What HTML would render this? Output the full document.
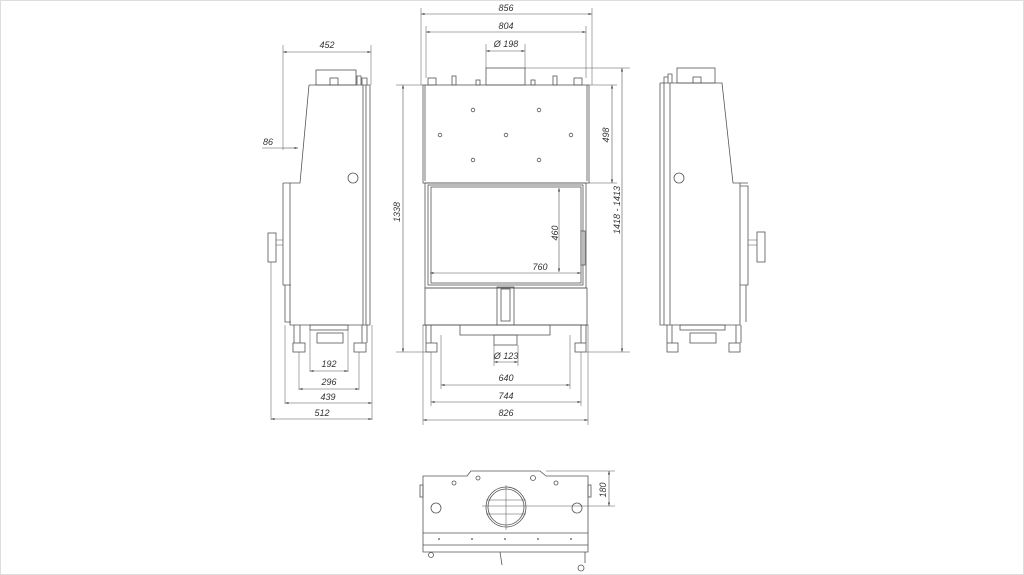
<!DOCTYPE html>
<html><head><meta charset="utf-8"><style>
html,body{margin:0;padding:0;background:#fff}
svg{display:block}
text{font-family:"Liberation Sans",sans-serif;font-style:italic;font-size:9px;fill:#333}
</style></head><body>
<svg width="1024" height="575" viewBox="0 0 1024 575" xmlns="http://www.w3.org/2000/svg">
<defs>
<marker id="a" viewBox="0 0 10 10" refX="10" refY="5" markerWidth="6" markerHeight="6" orient="auto-start-reverse"><path d="M0,2 L10,5 L0,8z" fill="#444"/></marker>
</defs>
<rect x="0.5" y="0.5" width="1023" height="574" fill="none" stroke="#ddd"/>
<g fill="none" stroke="#555" stroke-width="0.8">
<!-- LEFT VIEW -->
<path d="M283,45V150 M371,45V85" stroke-width="0.5"/>
<line x1="283" y1="52" x2="371" y2="52" marker-start="url(#a)" marker-end="url(#a)" stroke-width="0.6"/>
<rect x="316" y="70" width="40" height="15"/>
<rect x="330" y="78" width="8" height="7"/>
<path d="M357,85V76h4v9 M362,85V78h5v7"/>
<path d="M309,85H370V325 M309,85L300,183H283"/>
<path d="M363,85V325 M366,85V325"/>
<path d="M290,183V325H370"/>
<path d="M283,183V285H291 M285,285V322H291"/>
<rect x="268" y="233" width="8" height="29"/>
<path d="M276,240h7 M276,245h7" stroke-width="0.5"/>
<line x1="283" y1="148" x2="298" y2="148" stroke-width="0.6" marker-end="url(#a)"/>
<line x1="262" y1="148" x2="283" y2="148" stroke-width="0.5"/>
<circle cx="353" cy="178" r="5"/>
<rect x="310" y="325" width="38" height="5"/>
<rect x="317" y="333" width="26" height="10"/>
<path d="M294,325V343 M300,325V343 M362,325V343 M367,325V343"/>
<rect x="293" y="343" width="12" height="9"/><rect x="354" y="343" width="12" height="9"/>
<g stroke-width="0.5">
<path d="M310,330V372 M348,330V372 M299,352V390 M359,352V390 M285,325V404 M372,325V420 M271,262V420"/>
</g>
<g stroke-width="0.6">
<line x1="310" y1="371" x2="348" y2="371" marker-start="url(#a)" marker-end="url(#a)"/>
<line x1="299" y1="389" x2="359" y2="389" marker-start="url(#a)" marker-end="url(#a)"/>
<line x1="285" y1="403" x2="372" y2="403" marker-start="url(#a)" marker-end="url(#a)"/>
<line x1="271" y1="419" x2="372" y2="419" marker-start="url(#a)" marker-end="url(#a)"/>
</g>

<!-- FRONT VIEW -->
<g stroke-width="0.5">
<path d="M421,8V85 M592,8V85 M426,26V78 M586,26V78 M486,44V68 M525,44V68"/>
<path d="M396,85H423 M396,352H430 M589,85H617 M589,183H617 M525,68H630 M586,352H630"/>
<path d="M423,325V425 M588,325V425 M431,352V406 M581,352V406 M441,335V389 M570,335V389 M494,345V366 M518,345V366"/>
</g>
<g stroke-width="0.6">
<line x1="421" y1="14" x2="592" y2="14" marker-start="url(#a)" marker-end="url(#a)"/>
<line x1="426" y1="32" x2="586" y2="32" marker-start="url(#a)" marker-end="url(#a)"/>
<line x1="486" y1="51" x2="525" y2="51" marker-start="url(#a)" marker-end="url(#a)"/>
<line x1="403" y1="85" x2="403" y2="352" marker-start="url(#a)" marker-end="url(#a)"/>
<line x1="612" y1="85" x2="612" y2="183" marker-start="url(#a)" marker-end="url(#a)"/>
<line x1="622" y1="68" x2="622" y2="352" marker-start="url(#a)" marker-end="url(#a)"/>
<line x1="559" y1="188" x2="559" y2="272" marker-start="url(#a)" marker-end="url(#a)"/>
<line x1="430" y1="273" x2="581" y2="273" marker-start="url(#a)" marker-end="url(#a)"/>
<line x1="494" y1="362" x2="518" y2="362" marker-start="url(#a)" marker-end="url(#a)"/>
<line x1="441" y1="385" x2="570" y2="385" marker-start="url(#a)" marker-end="url(#a)"/>
<line x1="431" y1="402" x2="581" y2="402" marker-start="url(#a)" marker-end="url(#a)"/>
<line x1="423" y1="420" x2="588" y2="420" marker-start="url(#a)" marker-end="url(#a)"/>
</g>
<rect x="486" y="68" width="39" height="17"/>
<rect x="428" y="78" width="8" height="7"/><rect x="452" y="76" width="4" height="9"/><rect x="476" y="80" width="4" height="5"/>
<rect x="531" y="80" width="4" height="5"/><rect x="553" y="76" width="4" height="9"/><rect x="574" y="78" width="8" height="7"/>
<rect x="423" y="85" width="166" height="98"/>
<path d="M425,85V181 M587,85V181"/>
<g><circle cx="473" cy="110" r="1.8"/><circle cx="539" cy="110" r="1.8"/><circle cx="440" cy="135" r="1.8"/><circle cx="506" cy="135" r="1.8"/><circle cx="571" cy="135" r="1.8"/><circle cx="473" cy="160" r="1.8"/><circle cx="539" cy="160" r="1.8"/></g>
<rect x="425" y="183" width="161" height="105"/>
<rect x="428" y="185" width="155" height="100"/>
<rect x="431" y="187" width="150" height="96"/>
<rect x="581" y="231" width="4" height="34"/>
<rect x="425" y="288" width="162" height="37"/>
<rect x="497" y="287" width="17" height="38"/><rect x="501" y="289" width="9" height="32"/>
<rect x="423" y="325" width="165" height="0.1"/>
<rect x="460" y="325" width="90" height="10"/>
<rect x="494" y="335" width="23" height="10"/>
<path d="M426,325V343 M431,325V343 M581,325V343 M586,325V343"/>
<rect x="426" y="343" width="11" height="9"/><rect x="575" y="343" width="11" height="9"/>

<!-- RIGHT VIEW -->
<rect x="677" y="68" width="38" height="15"/>
<rect x="693" y="77" width="8" height="6"/>
<path d="M664,83V77h4v6 M668,83V74h4v9"/>
<path d="M660,83H722L733,183H748 M660,83V325H740V183"/>
<path d="M664,83V325 M670,83V325"/>
<path d="M740,186H748V285H740 M740,285H746V322"/>
<rect x="757" y="232" width="8" height="30"/>
<path d="M748,240h9 M748,245h9" stroke-width="0.5"/>
<circle cx="679" cy="178" r="5"/>
<rect x="680" y="325" width="45" height="5"/>
<rect x="690" y="333" width="26" height="10"/>
<path d="M667,325V343 M672,325V343 M736,325V343 M741,325V343"/>
<rect x="667" y="343" width="11" height="9"/><rect x="729" y="343" width="11" height="9"/>

<!-- BOTTOM VIEW -->
<path d="M423,476H467L471,471H540L546,476H588V552H423Z"/>
<path d="M423,533H588 M423,545H588"/>
<rect x="420" y="485" width="3" height="12"/><rect x="588" y="485" width="3" height="12"/>
<circle cx="506" cy="507" r="20"/><circle cx="506" cy="507" r="18"/>
<path d="M486,500H526 M486,514H526 M506,485V530" stroke-width="0.5"/>
<path d="M482,506H615 M546,471H615" stroke-width="0.5"/>
<line x1="609" y1="471" x2="609" y2="506" stroke-width="0.6" marker-start="url(#a)" marker-end="url(#a)"/>
<circle cx="436" cy="508" r="5"/><circle cx="577" cy="508" r="5"/>
<circle cx="454" cy="483" r="2"/><circle cx="478" cy="478" r="2"/><circle cx="533" cy="478" r="2.5"/><circle cx="556" cy="483" r="2"/>
<circle cx="431" cy="555" r="2.5"/><circle cx="581" cy="568" r="3"/>
<path d="M585,552V563 M500,552L502,565"/>
</g>
<g fill="#777"><circle cx="439" cy="539" r="1"/><circle cx="472" cy="539" r="1"/><circle cx="505" cy="539" r="1"/><circle cx="538" cy="539" r="1"/><circle cx="571" cy="539" r="1"/></g>

<!-- TEXT -->
<text x="327" y="48" text-anchor="middle">452</text>
<text x="268" y="145" text-anchor="middle">86</text>
<text x="329" y="367" text-anchor="middle">192</text>
<text x="329" y="385" text-anchor="middle">296</text>
<text x="328" y="400" text-anchor="middle">439</text>
<text x="322" y="416" text-anchor="middle">512</text>
<text x="506" y="11" text-anchor="middle">856</text>
<text x="506" y="29" text-anchor="middle">804</text>
<text x="506" y="47" text-anchor="middle">Ø 198</text>
<text x="540" y="270" text-anchor="middle">760</text>
<text x="506" y="359" text-anchor="middle">Ø 123</text>
<text x="506" y="381" text-anchor="middle">640</text>
<text x="506" y="399" text-anchor="middle">744</text>
<text x="506" y="416" text-anchor="middle">826</text>
<text transform="translate(400,212) rotate(-90)" text-anchor="middle">1338</text>
<text transform="translate(558,233) rotate(-90)" text-anchor="middle">460</text>
<text transform="translate(609,135) rotate(-90)" text-anchor="middle">498</text>
<text transform="translate(620,210) rotate(-90)" text-anchor="middle">1418 - 1413</text>
<text transform="translate(606,490) rotate(-90)" text-anchor="middle">180</text>
</svg>
</body></html>
